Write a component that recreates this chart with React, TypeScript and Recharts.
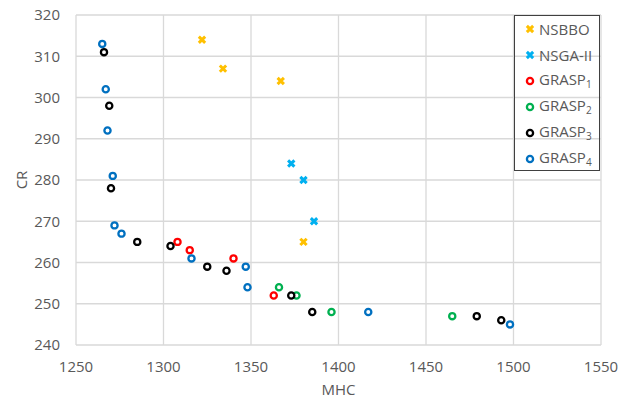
import {
  ScatterChart,
  Scatter,
  XAxis,
  YAxis,
  CartesianGrid,
  Legend,
} from "recharts";

// MHC / CR pairs
const nsbboMhc = [1322, 1334, 1367, 1380];
const nsbboCr = [314, 307, 304, 265];

const nsgaMhc = [1373, 1380, 1386];
const nsgaCr = [284, 280, 270];

const grasp1Mhc = [1308, 1315, 1340, 1363];
const grasp1Cr = [265, 263, 261, 252];

const grasp2Mhc = [1366, 1376, 1396, 1465];
const grasp2Cr = [254, 252, 248, 247];

const grasp3Mhc = [1266, 1269, 1270, 1285, 1304, 1325, 1336, 1373, 1385, 1479, 1493];
const grasp3Cr = [311, 298, 278, 265, 264, 259, 258, 252, 248, 247, 246];

const grasp4Mhc = [1265, 1267, 1268, 1271, 1272, 1276, 1316, 1347, 1348, 1417, 1498];
const grasp4Cr = [313, 302, 292, 281, 269, 267, 261, 259, 254, 248, 245];

const xTicks = [1250, 1300, 1350, 1400, 1450, 1500, 1550];
const yTicks = [240, 250, 260, 270, 280, 290, 300, 310, 320];

const FONT = "'Open Sans', sans-serif";
const TEXT = "#595959";
const GRID = "#d9d9d9";

const zip = (xs: number[], ys: number[]) => xs.map((x, i) => ({ x, y: ys[i] }));

type Series = {
  name: string;
  sub?: string;
  color: string;
  marker: "x" | "o";
  data: { x: number; y: number }[];
};

const series: Series[] = [
  { name: "NSBBO", color: "#ffc000", marker: "x", data: zip(nsbboMhc, nsbboCr) },
  { name: "NSGA-II", color: "#00b0f0", marker: "x", data: zip(nsgaMhc, nsgaCr) },
  { name: "GRASP", sub: "1", color: "#ff0000", marker: "o", data: zip(grasp1Mhc, grasp1Cr) },
  { name: "GRASP", sub: "2", color: "#00b050", marker: "o", data: zip(grasp2Mhc, grasp2Cr) },
  { name: "GRASP", sub: "3", color: "#000000", marker: "o", data: zip(grasp3Mhc, grasp3Cr) },
  { name: "GRASP", sub: "4", color: "#0070c0", marker: "o", data: zip(grasp4Mhc, grasp4Cr) },
];

function Marker({ cx, cy, color, kind }: { cx: number; cy: number; color: string; kind: "x" | "o" }) {
  if (kind === "x") {
    const d = 2.1;
    return (
      <path
        d={`M${cx - d},${cy - d}L${cx + d},${cy + d}M${cx - d},${cy + d}L${cx + d},${cy - d}`}
        stroke={color}
        strokeWidth={3}
        strokeLinecap="square"
        fill="none"
      />
    );
  }
  return <circle cx={cx} cy={cy} r={3.1} fill="#fff" stroke={color} strokeWidth={2.3} />;
}

function LegendBox() {
  return (
    <div
      style={{
        border: "1px solid #404040",
        width: 86,
        height: 156,
        boxSizing: "border-box",
        fontFamily: FONT,
        fontSize: 15,
        color: TEXT,
      }}
    >
      {series.map((s, i) => (
        <div key={i} style={{ height: 26, display: "flex", alignItems: "center", paddingLeft: 10 }}>
          <svg width={10} height={10} style={{ marginRight: 4 }}>
            <Marker cx={5} cy={5} color={s.color} kind={s.marker} />
          </svg>
          <span style={{ whiteSpace: "nowrap", lineHeight: "26px" }}>
            {s.name}
            {s.sub && <sub style={{ fontSize: 10, verticalAlign: "-3px" }}>{s.sub}</sub>}
          </span>
        </div>
      ))}
    </div>
  );
}

export default function App() {
  return (
    <div style={{ position: "absolute", left: 0, top: 0, width: 621, height: 403, background: "#fff" }}>
      <ScatterChart width={621} height={403} margin={{ top: 15, right: 20, bottom: 0, left: 0 }}>
        <CartesianGrid stroke={GRID} strokeWidth={1.3} />
        <XAxis
          type="number"
          dataKey="x"
          domain={[1250, 1550]}
          ticks={xTicks}
          axisLine={false}
          tickLine={false}
          tickMargin={10}
          height={58}
          tick={{ fill: TEXT, fontSize: 15, fontFamily: FONT }}
          label={{ value: "MHC", position: "insideBottom", offset: 8, fill: TEXT, fontSize: 15, fontFamily: FONT }}
        />
        <YAxis
          type="number"
          dataKey="y"
          domain={[240, 320]}
          ticks={yTicks}
          axisLine={false}
          tickLine={false}
          tickMargin={10}
          width={76}
          tick={{ fill: TEXT, fontSize: 15, fontFamily: FONT }}
          label={{
            content: (p: any) => {
              const vb = p.viewBox;
              const cx = vb.x + 21;
              const cy = vb.y + vb.height / 2;
              return (
                <text
                  x={cx}
                  y={cy}
                  transform={`rotate(-90 ${cx} ${cy})`}
                  textAnchor="middle"
                  dominantBaseline="central"
                  fill={TEXT}
                  fontSize={15}
                  fontFamily={FONT}
                >
                  CR
                </text>
              );
            },
          }}
        />
        <Legend
          layout="vertical"
          align="center"
          verticalAlign="middle"
          wrapperStyle={{ left: 514, top: 15, width: 86 }}
          content={() => <LegendBox />}
        />
        {series.map((s, i) => (
          <Scatter
            key={i}
            name={s.name + (s.sub ?? "")}
            data={s.data}
            fill={s.color}
            isAnimationActive={false}
            shape={(p: any) => <Marker cx={p.cx} cy={p.cy} color={s.color} kind={s.marker} />}
          />
        ))}
      </ScatterChart>
    </div>
  );
}
